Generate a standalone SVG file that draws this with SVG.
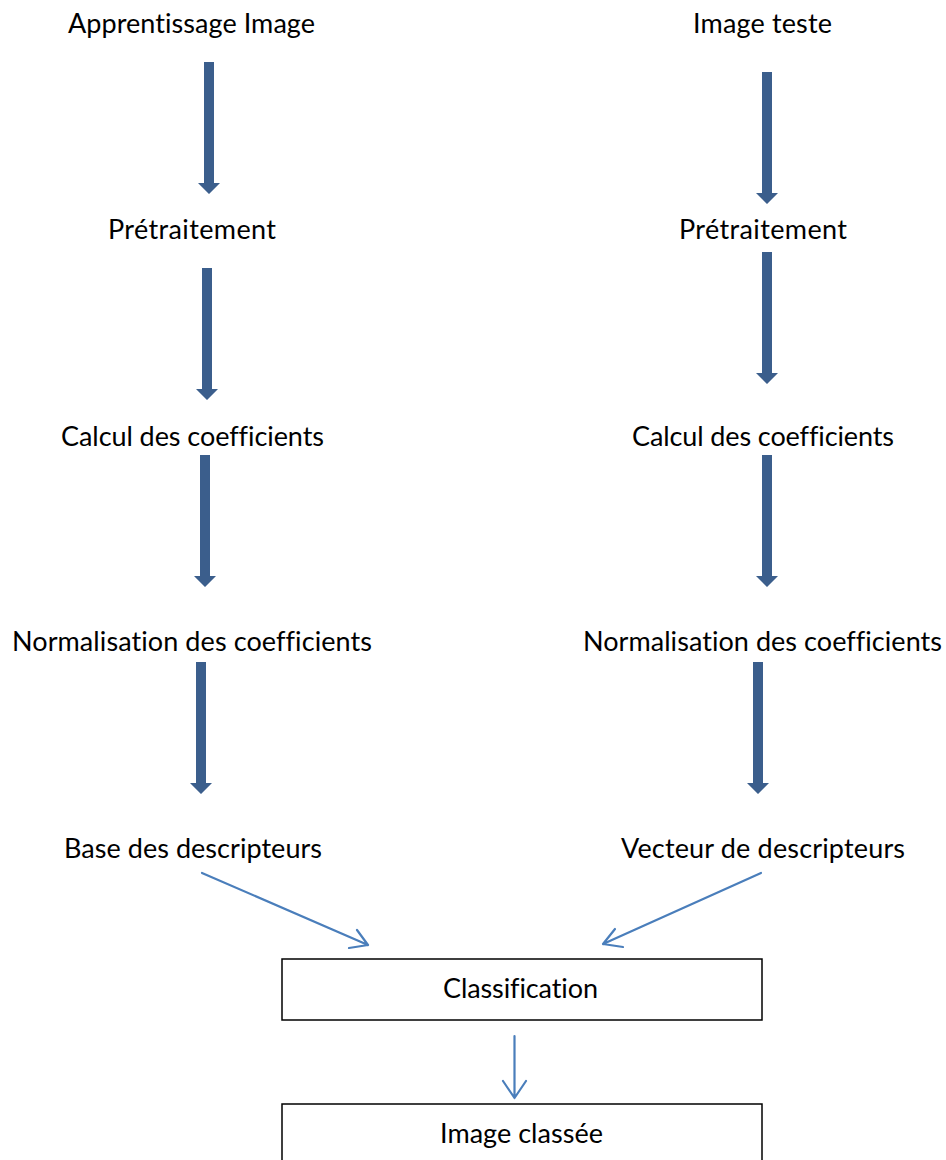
<svg xmlns="http://www.w3.org/2000/svg" xmlns:xlink="http://www.w3.org/1999/xlink" width="946" height="1160" viewBox="0 0 946 1160">
  <style>
    .lbl { font-family: Lato, "Open Sans", "Liberation Sans", sans-serif; font-size: 27px; fill: #000; text-anchor: middle; font-variant-ligatures: none; font-feature-settings: "liga" 0, "dlig" 0; }
    .box { fill: #fff; stroke: #000; stroke-width: 1.5; }
    .thin { fill: none; stroke: #4A7EBB; stroke-width: 2.2; stroke-linecap: round; stroke-linejoin: round; }
    .block { fill: #3B5E8C; }
  </style>
  <defs>
    <!-- block arrow, origin at top centre of the shaft -->
    <path id="blockArrow" class="block" d="M -5 0 L 5 0 L 5 121 L 11 121 L 0 132 L -11 121 L -5 121 Z"/>
  </defs>
  <rect width="946" height="1160" fill="#fff"/>

  <g id="left-column">
    <g id="n-apprentissage"><text class="lbl" x="191.5" y="33" textLength="247">Apprentissage Image</text></g>
    <g id="n-pretraitement-l"><text class="lbl" x="192" y="239" textLength="168">Prétraitement</text></g>
    <g id="n-calcul-l"><text class="lbl" x="192.5" y="446" textLength="263">Calcul des coefficients</text></g>
    <g id="n-normalisation-l"><text class="lbl" x="192" y="651" textLength="360">Normalisation des coefficients</text></g>
    <g id="n-base"><text class="lbl" x="193" y="858" textLength="258">Base des descripteurs</text></g>
  </g>

  <g id="right-column">
    <g id="n-image-teste"><text class="lbl" x="762.5" y="33" textLength="139">Image teste</text></g>
    <g id="n-pretraitement-r"><text class="lbl" x="763" y="239" textLength="168">Prétraitement</text></g>
    <g id="n-calcul-r"><text class="lbl" x="763" y="446" textLength="262">Calcul des coefficients</text></g>
    <g id="n-normalisation-r"><text class="lbl" x="762.5" y="651" textLength="359">Normalisation des coefficients</text></g>
    <g id="n-vecteur"><text class="lbl" x="763" y="858" textLength="284">Vecteur de descripteurs</text></g>
  </g>

  <g id="n-classification">
    <rect class="box" x="282" y="959" width="480" height="61"/>
    <text class="lbl" x="520.5" y="998" textLength="155">Classification</text>
  </g>

  <g id="n-image-classee">
    <rect class="box" x="282" y="1104" width="480" height="70"/>
    <text class="lbl" x="521.5" y="1143" textLength="163">Image classée</text>
  </g>

  <g id="connectors">
    <use xlink:href="#blockArrow" x="209" y="62"/>
    <use xlink:href="#blockArrow" x="207" y="268"/>
    <use xlink:href="#blockArrow" x="205" y="455"/>
    <use xlink:href="#blockArrow" x="201" y="662"/>
    <use xlink:href="#blockArrow" x="767" y="72"/>
    <use xlink:href="#blockArrow" x="767" y="252"/>
    <use xlink:href="#blockArrow" x="767" y="455"/>
    <use xlink:href="#blockArrow" x="758" y="662"/>

    <path class="thin" d="M 202 873 L 368 945 M 357 930 L 368 945 L 349 948"/>
    <path class="thin" d="M 761 873 L 603 944 M 615 929 L 603 944 L 623 947"/>
    <path class="thin" d="M 514.5 1036 L 514.5 1098 M 503 1081 L 514.5 1098 L 526 1081"/>
  </g>
</svg>
